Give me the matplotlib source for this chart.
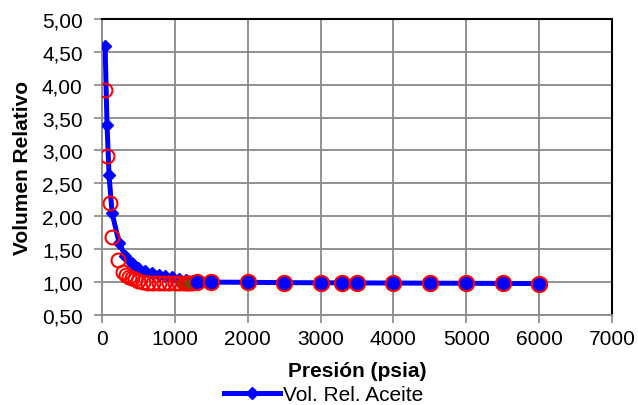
import numpy as np
import matplotlib.pyplot as plt
from matplotlib.ticker import FuncFormatter

plt.rcParams['font.family'] = ['Liberation Sans', 'DejaVu Sans']

# Vol. Rel. Aceite (calculated curve)
p_calc = [41, 68, 96, 137, 233, 315, 407, 498, 590, 686, 780, 870, 960, 1050,
          1150, 1250, 1300, 1500, 2000, 2500, 3000, 3300, 3500, 4000, 4500,
          5000, 5500, 6000]
v_calc = [4.59, 3.39, 2.62, 2.05, 1.60, 1.40, 1.29, 1.21, 1.16, 1.13, 1.11,
          1.09, 1.07, 1.05, 1.03, 1.01, 1.00, 0.998, 0.995, 0.99, 0.988, 0.987,
          0.986, 0.984, 0.982, 0.980, 0.978, 0.976]

# experimental points (open red circles) below bubble point
p_exp = [41, 73, 110, 141, 224, 292, 330, 370, 410, 450, 500, 560, 630, 700,
         780, 850, 920, 1000, 1060]
v_exp = [3.92, 2.91, 2.20, 1.69, 1.33, 1.15, 1.11, 1.08, 1.06, 1.04, 1.02,
         1.00, 0.99, 0.99, 0.99, 0.99, 0.99, 0.99, 0.99]

# points near bubble point (green)
p_bub = [1120, 1160, 1200, 1240]
v_bub = [0.99, 0.99, 0.99, 0.99]

# experimental points above bubble point
p_sat = [1300, 1500, 2000, 2500, 3000, 3300, 3500, 4000, 4500, 5000, 5500, 6000]
v_sat = [1.00, 0.998, 0.995, 0.99, 0.988, 0.987, 0.986, 0.984, 0.982, 0.980,
         0.978, 0.976]

fig = plt.figure(figsize=(6.38, 4.06), dpi=100)
ax = fig.add_axes([0.160, 0.222, 0.799, 0.729])

n_dia = sum(1 for p in p_calc if p <= 1250)
ax.plot(p_calc, v_calc, color='#0000ff', linewidth=3.6, marker='D',
        markersize=6.5, markevery=list(range(n_dia)), label='Vol. Rel. Aceite',
        zorder=3)
ax.plot(p_exp, v_exp, linestyle='none', marker='o', markersize=10,
        markerfacecolor='none', markeredgecolor='#ff0000', markeredgewidth=1.5,
        zorder=4)
ax.plot(p_bub, v_bub, linestyle='none', marker='o', markersize=10,
        markerfacecolor='#008000', markeredgecolor='#ff0000', markeredgewidth=1.5,
        zorder=4)
ax.plot(p_sat, v_sat, linestyle='none', marker='o', markersize=11,
        markerfacecolor='#0000ff', markeredgecolor='#ff0000', markeredgewidth=1.5,
        zorder=4)

ax.set_xlim(0, 7000)
ax.set_ylim(0.5, 5.0)
ax.set_xticks(np.arange(0, 7001, 1000))
ax.set_yticks(np.arange(0.5, 5.01, 0.5))
ax.yaxis.set_major_formatter(FuncFormatter(lambda v, pos: f'{v:.2f}'.replace('.', ',')))
ax.grid(True, color='#898989', linewidth=1.3)
ax.set_axisbelow(True)

for s in ['top', 'right']:
    ax.spines[s].set_color('black')
    ax.spines[s].set_linewidth(1.5)
for s in ['left', 'bottom']:
    ax.spines[s].set_color('#898989')
    ax.spines[s].set_linewidth(1.3)
ax.tick_params(axis='both', direction='out', length=6, color='#898989',
               labelsize=15, width=1.2)
ax.tick_params(axis='x', pad=4)
ax.tick_params(axis='y', pad=8)

ax.set_xlabel('Presión (psia)', fontsize=15, fontweight='bold')
ax.xaxis.set_label_coords(0.5, -0.189)
ax.xaxis.label.set_va('center')
ax.set_ylabel('Volumen Relativo', fontsize=15, fontweight='bold')
ax.yaxis.set_label_coords(-0.157, 0.5)
ax.yaxis.label.set_va('center')

fig.legend(*ax.get_legend_handles_labels(), loc='center',
           bbox_to_anchor=(0.507, 0.025), frameon=False, fontsize=15,
           handlelength=2.7, handletextpad=0.1, borderaxespad=0, borderpad=0)

fig.savefig('out.png', dpi=100)
